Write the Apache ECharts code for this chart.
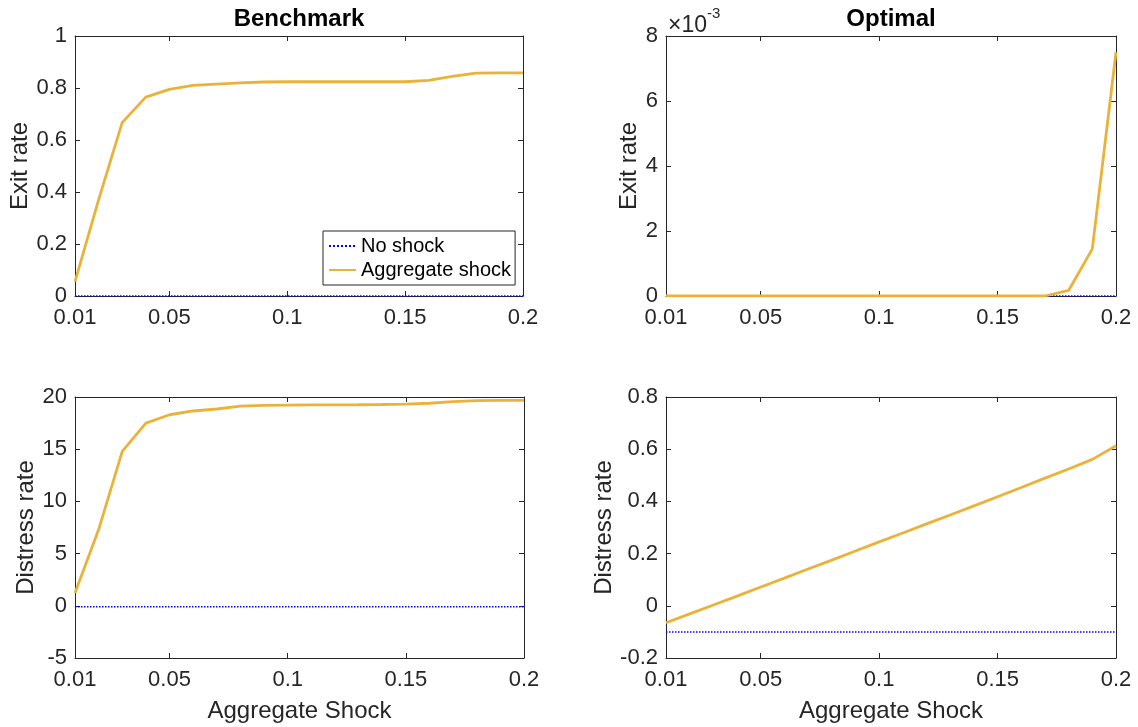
<!DOCTYPE html>
<html>
<head>
<meta charset="utf-8">
<title>Exit and distress rates</title>
<script src="https://cdn.jsdelivr.net/npm/echarts@6/dist/echarts.min.js"></script>
<style>
  html, body { margin: 0; padding: 0; background: #ffffff; }
  #chart { width: 1138px; height: 727px; }
</style>
</head>
<body>
<div id="chart"></div>
<script>
// Aggregate shock sizes on the horizontal axis
const shock = [0.01, 0.02, 0.03, 0.04, 0.05, 0.06, 0.07, 0.08, 0.09, 0.10,
               0.11, 0.12, 0.13, 0.14, 0.15, 0.16, 0.17, 0.18, 0.19, 0.20];
const xTicks = [0.01, 0.05, 0.1, 0.15, 0.2];

// Benchmark economy
const exitBenchNoShock  = [0, 0, 0, 0, 0, 0, 0, 0, 0, 0, 0, 0, 0, 0, 0, 0, 0, 0, 0, 0];
const exitBenchAggShock = [0.055, 0.37, 0.667, 0.765, 0.795, 0.81, 0.815, 0.82, 0.823, 0.824,
                           0.824, 0.824, 0.824, 0.824, 0.824, 0.829, 0.845, 0.857, 0.858, 0.858];
const distBenchNoShock  = [-0.1, -0.1, -0.1, -0.1, -0.1, -0.1, -0.1, -0.1, -0.1, -0.1,
                           -0.1, -0.1, -0.1, -0.1, -0.1, -0.1, -0.1, -0.1, -0.1, -0.1];
const distBenchAggShock = [1.22, 7.3, 14.8, 17.5, 18.3, 18.66, 18.85, 19.12, 19.2, 19.23,
                           19.24, 19.25, 19.26, 19.28, 19.32, 19.4, 19.56, 19.66, 19.68, 19.68];

// Optimal policy
const exitOptNoShock  = [0, 0, 0, 0, 0, 0, 0, 0, 0, 0, 0, 0, 0, 0, 0, 0, 0, 0, 0, 0];
const exitOptAggShock = [0, 0, 0, 0, 0, 0, 0, 0, 0, 0, 0, 0, 0, 0, 0, 0, 0, 0.00017, 0.00145, 0.0075];
const distOptNoShock  = [-0.1, -0.1, -0.1, -0.1, -0.1, -0.1, -0.1, -0.1, -0.1, -0.1,
                         -0.1, -0.1, -0.1, -0.1, -0.1, -0.1, -0.1, -0.1, -0.1, -0.1];
const distOptAggShock = [-0.065, -0.031, 0.003, 0.037, 0.072, 0.106, 0.141, 0.175, 0.21, 0.245,
                         0.279, 0.314, 0.348, 0.383, 0.418, 0.453, 0.489, 0.524, 0.561, 0.613];

const FONT = "'Liberation Sans', Arial, Helvetica, sans-serif";
const INK = '#262626';
const ORANGE = '#EBB23A';
const BLUE = '#0000FF';

const grids = [
  { left: 75,  top: 36,  width: 448, height: 260 },
  { left: 666, top: 36,  width: 450, height: 260 },
  { left: 75,  top: 397, width: 449, height: 261 },
  { left: 666, top: 397, width: 450, height: 261 }
];

const panels = [
  { y: { min: 0, max: 1, interval: 0.2 }, yName: 'Exit rate', yGap: 40, xName: '',
    noShock: exitBenchNoShock, agg: exitBenchAggShock },
  { y: { min: 0, max: 0.008, interval: 0.002, scale: 1000 }, yName: 'Exit rate', yGap: 23, xName: '',
    noShock: exitOptNoShock, agg: exitOptAggShock },
  { y: { min: -5, max: 20, interval: 5 }, yName: 'Distress rate', yGap: 35, xName: 'Aggregate Shock',
    noShock: distBenchNoShock, agg: distBenchAggShock },
  { y: { min: -0.2, max: 0.8, interval: 0.2 }, yName: 'Distress rate', yGap: 48, xName: 'Aggregate Shock',
    noShock: distOptNoShock, agg: distOptAggShock }
];

const fmtX = v => String(Math.round(v * 100) / 100);

const xAxis = [];
const yAxis = [];
const series = [];

panels.forEach((p, i) => {
  // bottom x axis with labels
  xAxis.push({
    type: 'value', gridIndex: i, position: 'bottom',
    min: 0.01, max: 0.2,
    name: p.xName, nameLocation: 'middle', nameGap: 41,
    nameTextStyle: { fontFamily: FONT, fontSize: 24, color: INK },
    axisLine: { show: true, onZero: false, lineStyle: { color: INK, width: 1 } },
    axisTick: { show: true, inside: true, length: 5, customValues: xTicks, lineStyle: { color: INK } },
    axisLabel: { show: true, margin: 11, customValues: xTicks, formatter: fmtX,
                 fontFamily: FONT, fontSize: 22, color: INK },
    splitLine: { show: false }
  });
  // top x axis closing the box
  xAxis.push({
    type: 'value', gridIndex: i, position: 'top',
    min: 0.01, max: 0.2,
    axisLine: { show: true, onZero: false, lineStyle: { color: INK, width: 1 } },
    axisTick: { show: true, inside: true, length: 5, customValues: xTicks, lineStyle: { color: INK } },
    axisLabel: { show: false },
    splitLine: { show: false }
  });
  const sc = p.y.scale || 1;
  yAxis.push({
    type: 'value', gridIndex: i, position: 'left',
    min: p.y.min, max: p.y.max, interval: p.y.interval,
    name: p.yName, nameLocation: 'middle', nameGap: p.yGap, nameRotate: 90,
    nameTextStyle: { fontFamily: FONT, fontSize: 24, color: INK },
    axisLine: { show: true, onZero: false, lineStyle: { color: INK, width: 1 } },
    axisTick: { show: true, inside: true, length: 5, lineStyle: { color: INK } },
    axisLabel: { show: true, margin: 8, fontFamily: FONT, fontSize: 22, color: INK,
                 formatter: v => String(Math.round(v * sc * 1000) / 1000) },
    splitLine: { show: false }
  });
  yAxis.push({
    type: 'value', gridIndex: i, position: 'right',
    min: p.y.min, max: p.y.max, interval: p.y.interval,
    axisLine: { show: true, onZero: false, lineStyle: { color: INK, width: 1 } },
    axisTick: { show: true, inside: true, length: 5, lineStyle: { color: INK } },
    axisLabel: { show: false },
    splitLine: { show: false }
  });

  series.push({
    name: 'No shock', type: 'line',
    xAxisIndex: 2 * i, yAxisIndex: 2 * i,
    data: shock.map((x, k) => [x, p.noShock[k]]),
    showSymbol: false, symbol: 'none', animation: false,
    lineStyle: { color: BLUE, width: 1.5, type: 'dotted' },
    itemStyle: { color: BLUE },
    z: 2
  });
  series.push({
    name: 'Aggregate shock', type: 'line',
    xAxisIndex: 2 * i, yAxisIndex: 2 * i,
    data: shock.map((x, k) => [x, p.agg[k]]),
    showSymbol: false, symbol: 'none', animation: false,
    lineStyle: { color: ORANGE, width: 2.8, type: 'solid' },
    itemStyle: { color: ORANGE },
    z: 3
  });
});

const chart = echarts.init(document.getElementById('chart'), null, { renderer: 'canvas' });
chart.setOption({
  backgroundColor: '#ffffff',
  animation: false,
  title: [
    { text: 'Benchmark', left: 299, top: 7, textAlign: 'center', padding: 0,
      textStyle: { fontFamily: FONT, fontSize: 24, fontWeight: 'bold', color: '#000000' } },
    { text: 'Optimal', left: 891, top: 7, textAlign: 'center', padding: 0,
      textStyle: { fontFamily: FONT, fontSize: 24, fontWeight: 'bold', color: '#000000' } }
  ],
  legend: {
    data: ['No shock', 'Aggregate shock'],
    orient: 'vertical', left: 323, top: 231,
    padding: [5, 4, 5, 5], itemGap: 4,
    itemWidth: 27, itemHeight: 14,
    // line samples only, no marker on top of them
    itemStyle: { color: 'transparent', borderColor: 'transparent', borderWidth: 0, opacity: 0 },
    backgroundColor: '#ffffff', borderColor: INK, borderWidth: 1,
    selectedMode: false,
    textStyle: { fontFamily: FONT, fontSize: 20, color: '#000000' }
  },
  grid: grids.map(g => Object.assign({ containLabel: false }, g)),
  xAxis: xAxis,
  yAxis: yAxis,
  series: series,
  graphic: [
    { type: 'text', left: 668, top: 14,
      style: { text: '\u00d710', font: '23px ' + FONT, fill: INK } },
    { type: 'text', left: 707, top: 6,
      style: { text: '-3', font: '15px ' + FONT, fill: INK } }
  ]
});
</script>
</body>
</html>
